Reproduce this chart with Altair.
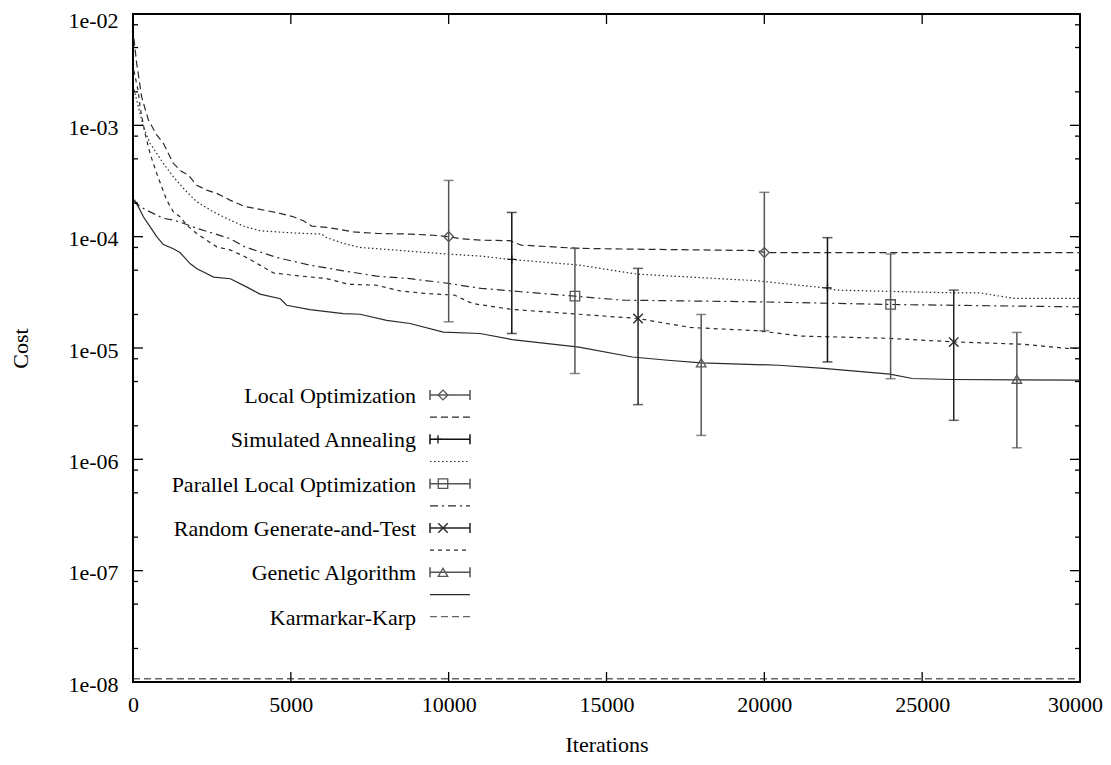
import altair as alt
import pandas as pd

# ---------------- data ----------------
lo_iter = [30, 116, 275, 486, 750, 961, 1278, 1542, 1753, 2017, 2334, 2651, 3073, 3548, 4023, 4657, 5080,
           5396, 5660, 6135, 6558, 6980, 7719, 8775, 9514, 10000, 10359, 10993, 11943, 12295, 14125, 16237,
           19757, 20000, 30000]
lo_cost = [6.0e-3, 3.6e-3, 1.8e-3, 1.12e-3, 8.2e-4, 6.9e-4, 4.55e-4, 3.84e-4, 3.57e-4, 2.9e-4, 2.62e-4,
           2.45e-4, 2.13e-4, 1.86e-4, 1.76e-4, 1.62e-4, 1.51e-4, 1.39e-4, 1.245e-4, 1.21e-4, 1.16e-4, 1.105e-4,
           1.07e-4, 1.055e-4, 1.03e-4, 1.0e-4, 9.6e-5, 9.3e-5, 9.2e-5, 8.4e-5, 7.85e-5, 7.7e-5, 7.5e-5, 7.2e-5,
           7.2e-5]

sa_iter = [30, 116, 327, 539, 750, 961, 1278, 1647, 2017, 2545, 3073, 3548, 4023, 5080, 5977, 6135, 6663,
           7191, 8247, 9970, 10993, 11943, 14125, 15956, 19757, 21869, 22291, 25953, 26798, 27924, 30000]
sa_cost = [2.1e-3, 1.69e-3, 9.7e-4, 6.9e-4, 5.6e-4, 4.55e-4, 3.45e-4, 2.62e-4, 2.06e-4, 1.67e-4, 1.41e-4,
           1.23e-4, 1.13e-4, 1.08e-4, 1.055e-4, 9.8e-5, 8.7e-5, 8.0e-5, 7.6e-5, 6.97e-5, 6.7e-5, 6.25e-5,
           5.56e-5, 4.61e-5, 4.02e-5, 3.48e-5, 3.31e-5, 3.13e-5, 3.13e-5, 2.79e-5, 2.79e-5]

plo_iter = [30, 222, 539, 961, 1278, 1595, 2017, 2545, 3073, 3548, 4023, 4551, 5607, 6663, 7719, 8775,
            10000, 11028, 12295, 14000, 15534, 19757, 24000, 30000]
plo_cost = [2.13e-4, 1.86e-4, 1.67e-4, 1.46e-4, 1.41e-4, 1.32e-4, 1.19e-4, 1.07e-4, 9.6e-5, 8.1e-5, 7.3e-5,
            6.5e-5, 5.55e-5, 4.93e-5, 4.42e-5, 4.2e-5, 3.8e-5, 3.43e-5, 3.2e-5, 2.92e-5, 2.69e-5, 2.6e-5,
            2.46e-5, 2.34e-5]

rgt_iter = [30, 169, 222, 380, 539, 750, 908, 1067, 1278, 1489, 1700, 2017, 2334, 2651, 3073, 3548, 4023,
            4446, 5080, 6135, 6821, 7719, 8458, 9303, 10183, 10746, 12013, 14125, 16000, 17646, 19757, 21165,
            23981, 26000, 28206, 29614, 30000]
rgt_cost = [3.1e-3, 2.0e-3, 1.47e-3, 8.5e-4, 5.6e-4, 3.7e-4, 2.81e-4, 2.13e-4, 1.67e-4, 1.51e-4, 1.27e-4,
            1.07e-4, 9.3e-5, 8.1e-5, 7.6e-5, 6.6e-5, 5.55e-5, 4.73e-5, 4.5e-5, 4.2e-5, 3.74e-5, 3.66e-5,
            3.26e-5, 3.08e-5, 2.99e-5, 2.51e-5, 2.22e-5, 2.01e-5, 1.84e-5, 1.53e-5, 1.43e-5, 1.28e-5, 1.22e-5,
            1.135e-5, 1.08e-5, 9.9e-6, 9.9e-6]

ga_iter = [30, 169, 327, 539, 750, 961, 1278, 1489, 1816, 2027, 2555, 3083, 3611, 4023, 4667, 4869, 5607,
           6663, 7191, 8036, 8775, 9831, 10993, 12013, 14125, 15815, 16941, 18000, 20461, 21869, 23981, 24685,
           25953, 30000]
ga_cost = [2.15e-4, 1.86e-4, 1.51e-4, 1.23e-4, 1.0e-4, 8.5e-5, 7.8e-5, 7.2e-5, 5.7e-5, 5.15e-5, 4.33e-5,
           4.19e-5, 3.52e-5, 3.05e-5, 2.77e-5, 2.42e-5, 2.21e-5, 2.04e-5, 2.01e-5, 1.77e-5, 1.66e-5, 1.39e-5,
           1.35e-5, 1.19e-5, 1.02e-5, 8.3e-6, 7.76e-6, 7.36e-6, 7.0e-6, 6.55e-6, 5.82e-6, 5.32e-6, 5.21e-6,
           5.14e-6]

kk_iter = [0, 30000]
kk_cost = [1.07e-8, 1.07e-8]

# error bars: iteration, mean, low, high
lo_eb_iter = [10000, 20000]
lo_eb_mid = [1.0e-4, 7.2e-5]
lo_eb_low = [1.72e-5, 1.43e-5]
lo_eb_high = [3.2e-4, 2.5e-4]

sa_eb_iter = [12000, 22000]
sa_eb_mid = [6.25e-5, 3.47e-5]
sa_eb_low = [1.35e-5, 7.5e-6]
sa_eb_high = [1.65e-4, 9.8e-5]

plo_eb_iter = [14000, 24000]
plo_eb_mid = [2.92e-5, 2.46e-5]
plo_eb_low = [5.9e-6, 5.3e-6]
plo_eb_high = [7.85e-5, 7.0e-5]

rgt_eb_iter = [16000, 26000]
rgt_eb_mid = [1.84e-5, 1.13e-5]
rgt_eb_low = [3.1e-6, 2.24e-6]
rgt_eb_high = [5.19e-5, 3.31e-5]

ga_eb_iter = [18000, 28000]
ga_eb_mid = [7.36e-6, 5.25e-6]
ga_eb_low = [1.64e-6, 1.27e-6]
ga_eb_high = [2.0e-5, 1.38e-5]

labels = ["Local Optimization", "Simulated Annealing", "Parallel Local Optimization",
          "Random Generate-and-Test", "Genetic Algorithm", "Karmarkar-Karp"]

x_ticks = [0, 5000, 10000, 15000, 20000, 25000, 30000]
y_major = [1e-8, 1e-7, 1e-6, 1e-5, 1e-4, 1e-3, 1e-2]
y_minor = [2e-8, 5e-8, 8e-8, 2e-7, 5e-7, 8e-7, 2e-6, 5e-6, 8e-6, 2e-5, 5e-5, 8e-5,
           2e-4, 5e-4, 8e-4, 2e-3, 5e-3, 8e-3]

# ---------------- styling ----------------
W, H = 947, 668
FONT = "Liberation Serif"
FS = 22
LINE = "#2a2a2a"
BAR = "#555555"

x_scale = alt.Scale(domain=[0, 30000], nice=False, zero=False)
y_scale = alt.Scale(type="log", domain=[1e-8, 1e-2], nice=False)

x_axis = alt.Axis(values=x_ticks, format="d", ticks=False, domain=False, grid=False,
                  labelFont=FONT, labelFontSize=FS, labelColor="black", labelPadding=12,
                  labelOffset={"condition": {"test": "datum.value >= 30000", "value": -5}, "value": 0},
                  labelFlush=False, labelOverlap=False,
                  title="Iterations", titleFont=FONT, titleFontSize=FS, titleFontWeight="normal",
                  titleColor="black", titleX=W / 2, titleY=62, titleAlign="center",
                  titleBaseline="middle")
y_axis = alt.Axis(values=y_major, labelExpr="'1e-0' + round(-log(datum.value)/LN10)",
                  ticks=False, domain=False, grid=False,
                  labelFont=FONT, labelFontSize=FS, labelColor="black", labelPadding=15,
                  labelOffset={"condition": {"test": "datum.value >= 0.005", "value": 6}, "value": 2},
                  labelFlush=False, labelOverlap=False,
                  title="Cost", titleFont=FONT, titleFontSize=FS, titleFontWeight="normal",
                  titleColor="black", titleX=-113, titleY=H / 2, titleAngle=270,
                  titleAlign="center", titleBaseline="middle")


def X(f):
    return alt.X(f"{f}:Q", scale=x_scale, axis=x_axis)


def Y(f):
    return alt.Y(f"{f}:Q", scale=y_scale, axis=y_axis)


def line_layer(it, cost, dash, color=LINE, width=1.2):
    df = pd.DataFrame({"iter": it, "cost": cost})
    kw = dict(color=color, strokeWidth=width, clip=True)
    if dash:
        kw["strokeDash"] = dash
    return alt.Chart(df).mark_line(**kw).encode(x=X("iter"), y=Y("cost"))


SHAPE_PLUS = "M-1,0L1,0M0,-1L0,1"
SHAPE_X = "M-1,-1L1,1M-1,1L1,-1"


def errbar_layers(it, mid, low, high, shape, size, color):
    df = pd.DataFrame({"iter": it, "mid": mid, "low": low, "high": high})
    base = alt.Chart(df)
    bar = base.mark_rule(color=color, strokeWidth=1.5).encode(x=X("iter"), y=Y("low"), y2="high:Q")
    cap_lo = base.mark_tick(color=color, orient="horizontal", size=10, thickness=1.5).encode(
        x=X("iter"), y=Y("low"))
    cap_hi = base.mark_tick(color=color, orient="horizontal", size=10, thickness=1.5).encode(
        x=X("iter"), y=Y("high"))
    pt = base.mark_point(shape=shape, size=size, filled=False, color=color, strokeWidth=1.3,
                         opacity=1).encode(x=X("iter"), y=Y("mid"))
    return [bar, cap_lo, cap_hi, pt]


dashes = {
    "lo": [7, 4],
    "sa": [1.5, 2.5],
    "plo": [8, 4, 2, 4],
    "rgt": [4, 4],
    "ga": None,
    "kk": [7, 4],
}

layers = []
layers.append(line_layer(ga_iter, ga_cost, dashes["ga"]))
layers.append(line_layer(lo_iter, lo_cost, dashes["lo"]))
layers.append(line_layer(sa_iter, sa_cost, dashes["sa"]))
layers.append(line_layer(plo_iter, plo_cost, dashes["plo"]))
layers.append(line_layer(rgt_iter, rgt_cost, dashes["rgt"]))
layers.append(line_layer(kk_iter, kk_cost, dashes["kk"], color="#666666", width=1.3))

eb_specs = [
    (lo_eb_iter, lo_eb_mid, lo_eb_low, lo_eb_high, "diamond", 95, BAR),
    (sa_eb_iter, sa_eb_mid, sa_eb_low, sa_eb_high, SHAPE_PLUS, 70, "#111111"),
    (plo_eb_iter, plo_eb_mid, plo_eb_low, plo_eb_high, "square", 90, BAR),
    (rgt_eb_iter, rgt_eb_mid, rgt_eb_low, rgt_eb_high, SHAPE_X, 90, "#222222"),
    (ga_eb_iter, ga_eb_mid, ga_eb_low, ga_eb_high, "triangle-up", 90, BAR),
]
for spec in eb_specs:
    layers.extend(errbar_layers(*spec))

# ---------------- frame ticks (inward, gnuplot style) ----------------
ymaj = alt.Chart(pd.DataFrame({"v": y_major}))
ymin = alt.Chart(pd.DataFrame({"v": y_minor}))
xmaj = alt.Chart(pd.DataFrame({"v": x_ticks}))
TK = dict(color="black", strokeWidth=1.3)
layers += [
    ymaj.mark_rule(**TK).encode(y=Y("v"), x=alt.value(0), x2=alt.value(10)),
    ymaj.mark_rule(**TK).encode(y=Y("v"), x=alt.value(W - 10), x2=alt.value(W)),
    ymin.mark_rule(**TK).encode(y=Y("v"), x=alt.value(0), x2=alt.value(5)),
    ymin.mark_rule(**TK).encode(y=Y("v"), x=alt.value(W - 5), x2=alt.value(W)),
    xmaj.mark_rule(**TK).encode(x=X("v"), y=alt.value(H - 10), y2=alt.value(H)),
    xmaj.mark_rule(**TK).encode(x=X("v"), y=alt.value(0), y2=alt.value(10)),
]

# ---------------- legend (gnuplot style key) ----------------
one = alt.Chart(pd.DataFrame({"k": [0]}))
TX, S0, S1, MX = 283, 297, 337, 310
ROW0, STEP = 381, 22.17
leg_markers = [("diamond", 95, BAR), (SHAPE_PLUS, 70, "#111111"), ("square", 90, BAR),
               (SHAPE_X, 90, "#222222"), ("triangle-up", 90, BAR)]
leg_dashes = [dashes["lo"], dashes["sa"], dashes["plo"], dashes["rgt"], dashes["ga"]]
for i in range(5):
    yt = ROW0 + STEP * (2 * i)
    yl = ROW0 + STEP * (2 * i + 1)
    shape, size, col = leg_markers[i]
    layers.append(one.mark_text(text=labels[i], font=FONT, fontSize=FS, align="right",
                                baseline="middle", color="black").encode(
        x=alt.value(TX), y=alt.value(yt + 1)))
    layers.append(one.mark_rule(color=col, strokeWidth=1.5).encode(
        x=alt.value(S0), x2=alt.value(S1), y=alt.value(yt)))
    layers.append(one.mark_rule(color=col, strokeWidth=1.5).encode(
        x=alt.value(S0), y=alt.value(yt - 5), y2=alt.value(yt + 5)))
    layers.append(one.mark_rule(color=col, strokeWidth=1.5).encode(
        x=alt.value(S1), y=alt.value(yt - 5), y2=alt.value(yt + 5)))
    layers.append(one.mark_point(shape=shape, size=size, filled=False, color=col,
                                 strokeWidth=1.3, opacity=1).encode(
        x=alt.value(MX if i != 1 else 305), y=alt.value(yt)))
    kw = dict(color=LINE, strokeWidth=1.2)
    if leg_dashes[i]:
        kw["strokeDash"] = leg_dashes[i]
    layers.append(one.mark_rule(**kw).encode(x=alt.value(S0), x2=alt.value(S1), y=alt.value(yl)))

ykk = ROW0 + STEP * 10
layers.append(one.mark_text(text=labels[5], font=FONT, fontSize=FS, align="right",
                            baseline="middle", color="black").encode(
    x=alt.value(TX), y=alt.value(ykk + 1)))
layers.append(one.mark_rule(color="#666666", strokeWidth=1.3, strokeDash=dashes["kk"]).encode(
    x=alt.value(S0), x2=alt.value(S1), y=alt.value(ykk)))

chart = alt.layer(*layers).properties(
    width=W, height=H,
    autosize=alt.AutoSizeParams(type="none"),
    padding={"left": 125, "top": 6, "right": 23, "bottom": 75},
).configure(background="white").configure_view(stroke="black", strokeWidth=2)

chart.save("out.html", embed_options={"renderer": "svg", "actions": False})
